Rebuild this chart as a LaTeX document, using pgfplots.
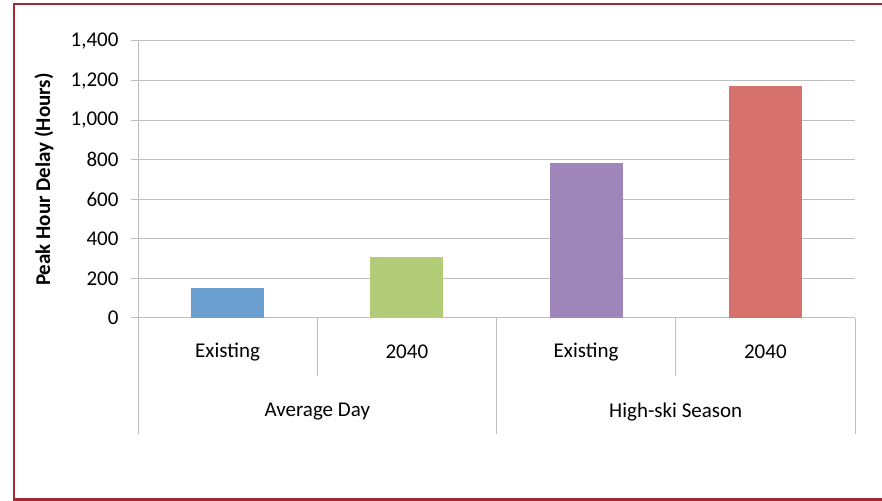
\documentclass[border=0pt]{standalone}
\usepackage{pgfplots}
\pgfplotsset{compat=1.18}
\usepackage{fontspec}
\setmainfont{Carlito}
\definecolor{framered}{HTML}{A3282F}
\definecolor{gridgray}{HTML}{BEBEBE}
\definecolor{cblue}{HTML}{6A9FD0}
\definecolor{cgreen}{HTML}{B2CC78}
\definecolor{cpurple}{HTML}{9E86BA}
\definecolor{cred}{HTML}{D6716B}
\begin{document}
\begin{tikzpicture}
\useasboundingbox (0bp,0bp) rectangle (882bp,501bp);
\clip (0bp,0bp) rectangle (882bp,501bp);
\draw[framered, line width=2.4bp] (14bp,1.5bp) rectangle (900bp,497bp);
\begin{axis}[
  at={(138bp,183bp)}, anchor=south west,
  scale only axis, width=717bp, height=277bp,
  xmin=-0.5, xmax=3.5, ymin=0, ymax=1400,
  ytick={0,200,...,1400},
  yticklabel style={/pgf/number format/1000 sep={,}, font=\fontsize{21bp}{25bp}\selectfont, xshift=-9bp},
  /pgf/number format/assume math mode=true,
  ymajorgrids, grid style={gridgray, line width=1bp},
  axis lines*=left,
  axis line style={gridgray, line width=1bp},
  tick align=outside, major tick length=7bp,
  ytick style={gridgray, line width=1bp},
  xtick={0,1,2,3}, xticklabels={Existing,2040,Existing,2040},
  xtick style={draw=none},
  xticklabel style={anchor=center, yshift=-27bp, font=\fontsize{21bp}{25bp}\selectfont},
  ylabel={\bfseries Peak Hour Delay (Hours)},
  ylabel style={at={(rel axis cs:-0.131,0.5)}, anchor=center, font=\fontsize{21bp}{25bp}\selectfont},
  ybar, bar width=73bp, bar shift=0pt,
  clip=false,
]
\addplot[fill=cblue, draw=none] coordinates {(0,150)};
\addplot[fill=cgreen, draw=none] coordinates {(1,310)};
\addplot[fill=cpurple, draw=none] coordinates {(2,785)};
\addplot[fill=cred, draw=none] coordinates {(3,1175)};
\draw[gridgray, line width=1bp] (axis cs:-0.5,0) -- ([yshift=-116bp]axis cs:-0.5,0);
\draw[gridgray, line width=1bp] (axis cs:0.5,0) -- ([yshift=-58bp]axis cs:0.5,0);
\draw[gridgray, line width=1bp] (axis cs:1.5,0) -- ([yshift=-116bp]axis cs:1.5,0);
\draw[gridgray, line width=1bp] (axis cs:2.5,0) -- ([yshift=-58bp]axis cs:2.5,0);
\draw[gridgray, line width=1bp] (axis cs:3.5,0) -- ([yshift=-116bp]axis cs:3.5,0);
\node[font=\fontsize{21bp}{25bp}\selectfont] at ([yshift=-94bp]axis cs:0.5,0) {Average Day};
\node[font=\fontsize{21bp}{25bp}\selectfont] at ([yshift=-94bp]axis cs:2.5,0) {High-ski Season};
\end{axis}
\end{tikzpicture}
\end{document}
